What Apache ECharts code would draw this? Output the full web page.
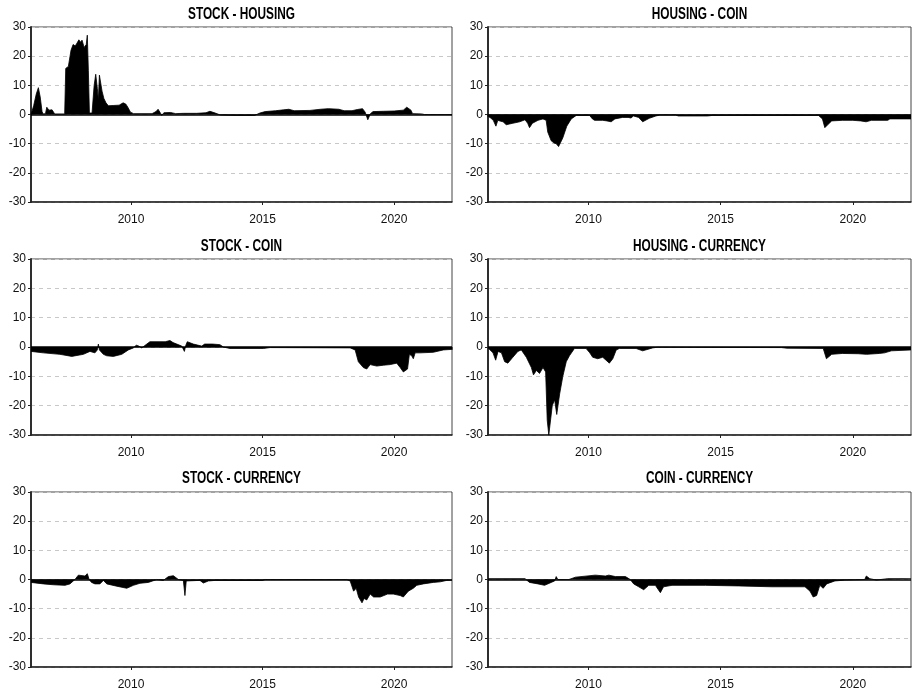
<!DOCTYPE html>
<html>
<head>
<meta charset="utf-8">
<script src="https://cdn.jsdelivr.net/npm/echarts@6/dist/echarts.min.js"></script>
<style>
html,body{margin:0;padding:0;background:#fff;}
#chart{width:916px;height:696px;}
</style>
</head>
<body>
<div id="chart"></div>
<script>
// ---- data: [year, value] ----
const titles = ["STOCK - HOUSING", "HOUSING - COIN", "STOCK - COIN", "HOUSING - CURRENCY", "STOCK - CURRENCY", "COIN - CURRENCY"];
const xTickLabels = [2010, 2015, 2020];
const yTickLabels = [-30, -20, -10, 0, 10, 20, 30];

const stockHousing = [[2006.20,0],[2006.30,3],[2006.40,7],[2006.48,9.2],[2006.55,6],[2006.62,1],[2006.66,0.2],[2006.75,0.3],[2006.80,2.5],[2006.88,1.5],[2007.00,1.6],[2007.05,1.2],[2007.10,0.2],[2007.48,0.2],[2007.52,15.8],[2007.62,16.5],[2007.72,22],[2007.80,24],[2007.88,23.5],[2007.95,24.5],[2008.02,25.6],[2008.08,24.8],[2008.14,25.5],[2008.22,23],[2008.30,24],[2008.34,27.2],[2008.38,15],[2008.42,0.5],[2008.52,0.5],[2008.60,10],[2008.66,13.8],[2008.72,9],[2008.76,5],[2008.80,13.5],[2008.84,13.8],[2008.90,8],[2008.97,5.5],[2009.05,4],[2009.14,3],[2009.35,3.1],[2009.55,3.2],[2009.70,4],[2009.80,3.6],[2009.88,2.5],[2009.98,0.8],[2010.10,0.3],[2010.80,0.3],[2010.95,1],[2011.03,1.8],[2011.10,0.8],[2011.17,-0.3],[2011.25,0.6],[2011.50,0.7],[2011.70,0.3],[2012.00,0.4],[2012.50,0.4],[2012.85,0.6],[2013.00,1.1],[2013.20,0.5],[2013.40,-0.2],[2014.00,-0.3],[2014.70,-0.3],[2014.90,0.5],[2015.10,1],[2015.50,1.3],[2015.80,1.6],[2016.00,1.8],[2016.20,1.3],[2016.80,1.4],[2017.20,1.8],[2017.50,2],[2017.90,1.8],[2018.10,1.3],[2018.40,1.3],[2018.60,1.7],[2018.80,2],[2018.90,0.8],[2019.00,-1.8],[2019.10,0.3],[2019.20,1],[2019.60,1.1],[2020.00,1.2],[2020.35,1.5],[2020.48,2.5],[2020.55,2.8],[2020.64,1.5],[2020.70,0.3],[2021.05,0.2],[2021.15,0],[2022.20,0]];

const housingCoin = [[2006.18,-0.5],[2006.30,-1.2],[2006.40,-2],[2006.50,-4],[2006.57,-2],[2006.68,-2.3],[2006.77,-2.5],[2006.89,-3.5],[2007.14,-3],[2007.40,-2.5],[2007.60,-1.8],[2007.70,-3],[2007.77,-4.5],[2007.88,-3],[2008.09,-2],[2008.28,-1.5],[2008.40,-2],[2008.46,-6],[2008.59,-9],[2008.70,-9.8],[2008.78,-10],[2008.87,-11],[2008.95,-9.5],[2009.03,-8],[2009.18,-4],[2009.35,-1.5],[2009.54,-0.3],[2010.04,-0.3],[2010.15,-1.5],[2010.23,-2],[2010.54,-2],[2010.70,-2.2],[2010.86,-2.5],[2011.00,-1.5],[2011.29,-1],[2011.50,-1],[2011.61,-1.2],[2011.70,-0.5],[2011.90,-1],[2012.05,-2.5],[2012.30,-1.3],[2012.55,-0.5],[2012.70,-0.2],[2013.30,-0.2],[2013.40,-0.5],[2014.50,-0.5],[2014.70,-0.3],[2018.70,-0.3],[2018.85,-1.5],[2018.94,-4.5],[2019.05,-3.5],[2019.20,-2.2],[2019.60,-2],[2020.00,-2],[2020.30,-2.2],[2020.50,-2.5],[2020.70,-2],[2021.32,-2],[2021.40,-1.5],[2022.20,-1.5]];

const stockCoin = [[2006.20,-1.5],[2006.67,-2],[2007.30,-2.5],[2007.75,-3.2],[2008.19,-2.5],[2008.44,-1.5],[2008.63,-2],[2008.72,-1],[2008.76,1],[2008.80,-1],[2008.95,-2.5],[2009.08,-3],[2009.33,-3.2],[2009.65,-2.5],[2009.90,-1],[2010.09,-0.3],[2010.20,0.6],[2010.30,0.3],[2010.41,-0.3],[2010.60,1],[2010.72,1.8],[2011.10,1.8],[2011.30,1.8],[2011.48,2.2],[2011.60,1.5],[2011.74,1],[2011.93,0.3],[2012.03,-1.5],[2012.08,0.5],[2012.14,1.8],[2012.37,1],[2012.69,0.3],[2012.80,1],[2013.10,1],[2013.38,0.8],[2013.51,0],[2013.76,-0.5],[2015.03,-0.5],[2015.29,-0.2],[2018.33,-0.3],[2018.52,-1],[2018.64,-5],[2018.83,-7],[2018.96,-7.5],[2019.09,-6],[2019.34,-6.5],[2019.60,-6.2],[2019.85,-6],[2020.10,-5.5],[2020.23,-7],[2020.35,-8.5],[2020.51,-7.5],[2020.58,-2.5],[2020.67,-3],[2020.73,-4],[2020.80,-2],[2020.99,-2],[2021.49,-1.8],[2021.87,-1],[2022.22,-0.8]];

const housingCurrency = [[2006.20,-0.3],[2006.26,-0.5],[2006.39,-2],[2006.49,-4.5],[2006.58,-1.5],[2006.71,-2],[2006.83,-5],[2006.95,-5.5],[2007.14,-3.5],[2007.33,-1.5],[2007.46,-1],[2007.65,-3.5],[2007.84,-7],[2007.92,-9.5],[2008.03,-8],[2008.15,-9],[2008.28,-7],[2008.38,-8.5],[2008.44,-25],[2008.50,-30],[2008.57,-30],[2008.63,-20],[2008.72,-18],[2008.80,-23],[2008.91,-16],[2009.03,-10],[2009.16,-5],[2009.28,-3],[2009.47,-0.5],[2009.91,-0.5],[2010.05,-2],[2010.16,-3.5],[2010.35,-4],[2010.54,-3.5],[2010.79,-5.5],[2010.92,-4],[2011.05,-1],[2011.17,-0.5],[2011.80,-0.5],[2012.05,-1.3],[2012.43,-0.3],[2012.60,-0.1],[2017.30,-0.2],[2017.50,-0.4],[2018.88,-0.5],[2019.00,-4],[2019.20,-2.5],[2019.60,-2.2],[2020.20,-2.3],[2020.52,-2.5],[2021.00,-2.2],[2021.20,-2],[2021.46,-1.3],[2022.20,-1]];

const stockCurrency = [[2006.20,-1],[2006.67,-1.5],[2007.05,-1.8],[2007.49,-2],[2007.68,-1.5],[2007.87,0],[2008.00,1.5],[2008.25,1.2],[2008.34,2],[2008.41,0],[2008.50,-1],[2008.63,-1.5],[2008.82,-1.5],[2008.95,-0.3],[2009.08,-1.5],[2009.46,-2.3],[2009.84,-3],[2010.09,-2],[2010.34,-1.3],[2010.66,-1],[2010.98,0],[2011.23,-0.3],[2011.42,1],[2011.61,1.3],[2011.80,0],[2011.99,-0.3],[2012.05,-5.5],[2012.10,-0.5],[2012.62,-0.3],[2012.75,-1.2],[2012.94,-0.5],[2013.20,-0.3],[2015.00,-0.3],[2015.10,0],[2018.20,0],[2018.33,-0.5],[2018.46,-4],[2018.56,-3],[2018.65,-6],[2018.78,-8],[2018.86,-6.5],[2018.96,-7],[2019.09,-5],[2019.22,-6],[2019.47,-6],[2019.75,-5],[2019.97,-5],[2020.23,-5.5],[2020.35,-6],[2020.54,-4],[2020.73,-3],[2020.86,-2],[2021.11,-1.5],[2021.49,-1],[2021.75,-0.8],[2022.00,-0.3],[2022.20,-0.2]];

const coinCurrency = [[2006.20,0.3],[2007.60,0.3],[2007.77,-1],[2008.09,-1.5],[2008.34,-2],[2008.59,-1],[2008.72,-0.5],[2008.78,1],[2008.84,0],[2009.26,0],[2009.51,0.8],[2010.26,1.5],[2010.64,1.2],[2010.77,1.5],[2011.02,1],[2011.40,1],[2011.58,0],[2011.71,-1.5],[2011.90,-2.5],[2012.09,-3.5],[2012.28,-2],[2012.53,-2],[2012.72,-4.5],[2012.84,-2.5],[2013.16,-2],[2014.42,-2],[2015.67,-2.2],[2016.93,-2.5],[2018.19,-2.5],[2018.38,-4],[2018.50,-6],[2018.63,-5.5],[2018.75,-2],[2018.88,-3],[2019.01,-1.5],[2019.32,-0.5],[2019.70,-0.2],[2020.45,0],[2020.51,1.2],[2020.64,0.3],[2020.89,-0.2],[2021.32,0.3],[2022.20,0.3]];

const panelData = [stockHousing, housingCoin, stockCoin, housingCurrency, stockCurrency, coinCurrency];

// ---- layout ----
const FONT = '"Liberation Sans", Arial, sans-serif';
const cols = [{left: 31, width: 421}, {left: 488, width: 423}];
const rows = [{top: 27, height: 175, title: 15}, {top: 259, height: 176, title: 247}, {top: 492, height: 175, title: 479}];

const grids = [], xAxes = [], yAxes = [], series = [], graphics = [];
panelData.forEach((data, i) => {
  const c = cols[i % 2], r = rows[Math.floor(i / 2)];
  grids.push({left: c.left, width: c.width, top: r.top, height: r.height,
    show: true, borderColor: '#444', borderWidth: 1, backgroundColor: 'transparent'});
  graphics.push({type: 'text', x: c.left + c.width / 2, y: r.title, scaleX: 0.74, silent: true,
    style: {text: titles[i], fontFamily: FONT, fontWeight: 'bold', fontSize: 16, fill: '#000',
      textAlign: 'center', textVerticalAlign: 'middle'}});
  xAxes.push({type: 'value', gridIndex: i, min: 2006.2, max: 2022.2,
    axisLine: {show: true, onZero: false, lineStyle: {color: '#222', width: 1.5}},
    axisTick: {show: true, length: 3, customValues: xTickLabels, lineStyle: {color: '#222'}},
    axisLabel: {customValues: xTickLabels, margin: 12, fontFamily: FONT, fontSize: 12, color: '#111',
      formatter: v => String(Math.round(v))},
    splitLine: {show: false}});
  yAxes.push({type: 'value', gridIndex: i, min: -30, max: 30, interval: 10,
    axisLine: {show: true, lineStyle: {color: '#222', width: 1.8}},
    axisTick: {show: true, length: 3, lineStyle: {color: '#222'}},
    axisLabel: {margin: 5, fontFamily: FONT, fontSize: 12, color: '#111'},
    splitLine: {show: true, lineStyle: {color: '#c8c8c8', type: [4, 4], width: 1}}});
  series.push({type: 'line', xAxisIndex: i, yAxisIndex: i, data: data, symbol: 'none', silent: true,
    lineStyle: {color: '#000', width: 0.8}, areaStyle: {color: '#000', opacity: 1, origin: 0},
    markLine: {silent: true, symbol: ['none', 'none'], label: {show: false},
      lineStyle: {color: '#000', width: 1.6, type: 'solid'}, data: [{yAxis: 0}]}});
});

const chart = echarts.init(document.getElementById('chart'), null, {renderer: 'canvas'});
chart.setOption({
  animation: false,
  backgroundColor: '#fff',
  graphic: graphics,
  grid: grids,
  xAxis: xAxes,
  yAxis: yAxes,
  series: series
});
</script>
</body>
</html>
